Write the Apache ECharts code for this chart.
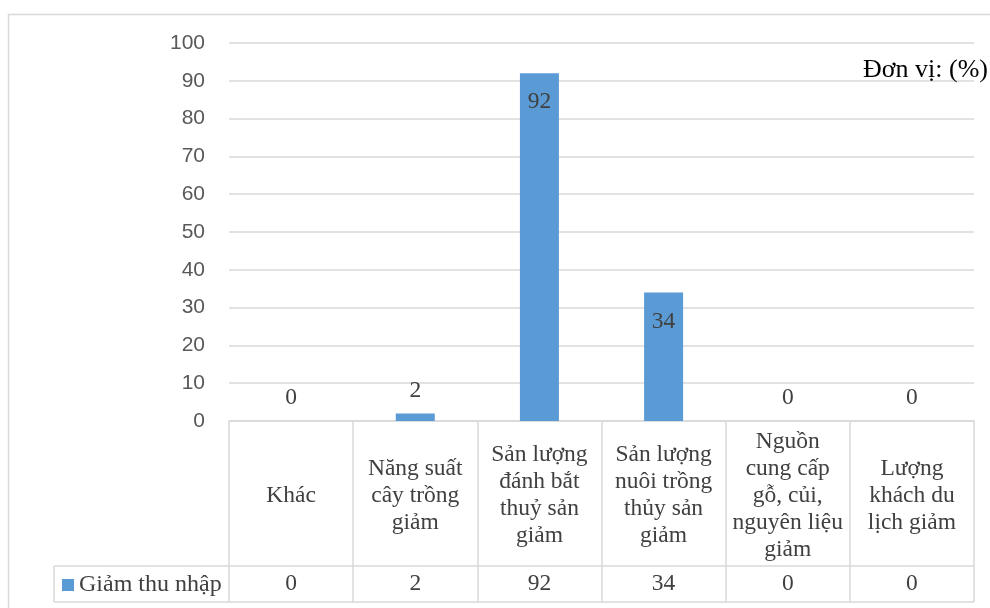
<!DOCTYPE html>
<html>
<head>
<meta charset="utf-8">
<script src="https://cdn.jsdelivr.net/npm/echarts@6/dist/echarts.min.js"></script>
<style>
  html, body { margin: 0; padding: 0; background: #fff; }
  #chart { width: 990px; height: 608px; }
</style>
</head>
<body>
<div id="chart"></div>
<script>
// Categories (with line breaks as shown in the data table header cells)
const categories = [
  'Khác',
  'Năng suất\ncây trồng\ngiảm',
  'Sản lượng\nđánh bắt\nthuỷ sản\ngiảm',
  'Sản lượng\nnuôi trồng\nthủy sản\ngiảm',
  'Nguồn\ncung cấp\ngỗ, củi,\nnguyên liệu\ngiảm',
  'Lượng\nkhách du\nlịch giảm'
];
const seriesName = 'Giảm thu nhập';
const values = [0, 2, 92, 34, 0, 0];
const yTicks = { min: 0, max: 100, interval: 10 };
const unitText = 'Đơn vị: (%)';

// Layout
const W = 990, H = 608;
const gridLeft = 229, gridRight = 16, gridTop = 43, gridBottom = 187;
const axisY = H - gridBottom;          // category axis baseline
const headerH = 145;                   // table header row height
const rowH = 36;                       // table value row height
const legendCellLeft = 54;
const lineColor = '#d9d9d9';
const textColor = '#404040';
const serif = '"Liberation Serif", "Times New Roman", serif';
const sans = '"Liberation Sans", Arial, sans-serif';
const serifSize = 23.5;

const chart = echarts.init(document.getElementById('chart'), null, { renderer: 'canvas' });

const plotRight = W - gridRight;
const tableLines = [
  // row divider and bottom of the data table, spanning the legend cell
  { x1: legendCellLeft, y1: axisY + headerH, x2: plotRight, y2: axisY + headerH },
  { x1: legendCellLeft, y1: axisY + headerH + rowH, x2: plotRight, y2: axisY + headerH + rowH },
  { x1: legendCellLeft, y1: axisY + headerH, x2: legendCellLeft, y2: axisY + headerH + rowH }
];

chart.setOption({
  animation: false,
  backgroundColor: '#fff',
  title: {
    text: unitText,
    right: -3,
    top: 52,
    textStyle: { fontFamily: serif, fontSize: 26, fontWeight: 'normal', color: '#000' }
  },
  legend: {
    data: [seriesName],
    left: 57,
    top: axisY + headerH + 2,
    icon: 'rect',
    itemWidth: 12,
    itemHeight: 12,
    itemGap: 6,
    textStyle: { fontFamily: serif, fontSize: 24, color: textColor }
  },
  grid: { left: gridLeft, right: gridRight, top: gridTop, bottom: gridBottom, containLabel: false },
  xAxis: [
    {
      type: 'category',
      data: categories,
      position: 'bottom',
      axisLine: { show: true, lineStyle: { color: lineColor, width: 1.5 } },
      axisTick: { show: true, length: headerH + rowH, lineStyle: { color: lineColor, width: 1.5 } },
      axisLabel: {
        interval: 0,
        margin: headerH / 2 + 2,
        verticalAlign: 'middle',
        fontFamily: serif,
        fontSize: serifSize,
        lineHeight: 27,
        color: textColor
      }
    },
    {
      type: 'category',
      data: values.map(String),
      position: 'bottom',
      offset: headerH,
      axisLine: { show: false },
      axisTick: { show: false },
      axisLabel: {
        interval: 0,
        margin: rowH / 2,
        verticalAlign: 'middle',
        fontFamily: serif,
        fontSize: serifSize,
        color: textColor
      }
    }
  ],
  yAxis: {
    type: 'value',
    min: yTicks.min,
    max: yTicks.max,
    interval: yTicks.interval,
    axisLine: { show: false },
    axisTick: { show: false },
    axisLabel: { margin: 24, fontFamily: sans, fontSize: 21, color: '#595959' },
    splitLine: { lineStyle: { color: lineColor, width: 1.5 } }
  },
  series: [{
    name: seriesName,
    type: 'bar',
    xAxisIndex: 0,
    barWidth: 39,
    itemStyle: { color: '#5b9bd5' },
    data: values.map(v => ({
      value: v,
      label: v > 20 ? { position: 'insideTop', distance: 17 } : { position: 'top', distance: 11 }
    })),
    label: {
      show: true,
      fontFamily: serif,
      fontSize: serifSize,
      color: textColor
    }
  }],
  graphic: [
    {
      type: 'rect',
      shape: { x: 8.5, y: 14.5, width: 1200, height: 800 },
      style: { fill: null, stroke: lineColor, lineWidth: 1.5 },
      silent: true,
      z: -1
    }
  ].concat(tableLines.map(l => ({
    type: 'line',
    shape: l,
    style: { stroke: lineColor, lineWidth: 1.5 },
    silent: true
  })))
});
</script>
</body>
</html>
